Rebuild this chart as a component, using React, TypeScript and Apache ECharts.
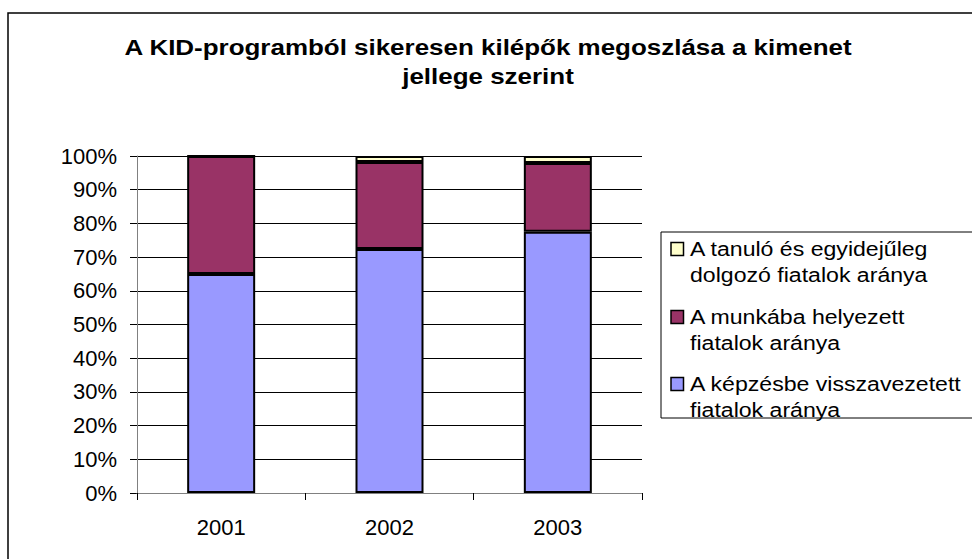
import React, { useEffect, useRef } from "react";
import * as echarts from "echarts";

const categories = ["2001", "2002", "2003"];
const kepzesbe = [65.0, 72.4, 77.5];
const munkaba = [35.0, 25.8, 20.4];
const tanulo = [0, 1.8, 2.1];
const yTicks = ["0%", "10%", "20%", "30%", "40%", "50%", "60%", "70%", "80%", "90%", "100%"];
const titleLines = ["A KID-programból sikeresen kilépők megoszlása a kimenet", "jellege szerint"];

const legendItems = [
  { lines: ["A tanuló és egyidejűleg", "dolgozó fiatalok aránya"], color: "#FFFFCC" },
  { lines: ["A munkába helyezett", "fiatalok aránya"], color: "#993366" },
  { lines: ["A képzésbe visszavezetett", "fiatalok aránya"], color: "#9999FF" },
];

const FONT = "'Liberation Sans', Arial, sans-serif";

export default function App() {
  const ref = useRef<HTMLDivElement>(null);
  useEffect(() => {
    document.body.style.margin = "0";
    const chart = echarts.init(ref.current!, null, { renderer: "svg" });
    const graphics: any[] = [
      {
        type: "rect",
        shape: { x: 8, y: 13, width: 1100, height: 700 },
        style: { fill: "none", stroke: "#000", lineWidth: 1.5 },
        silent: true,
      },
      {
        type: "rect",
        shape: { x: 661, y: 232, width: 400, height: 186 },
        style: { fill: "#fff", stroke: "#000", lineWidth: 1 },
      },
    ];
    titleLines.forEach((ln, i) => {
      graphics.push({
        type: "text",
        x: 488,
        y: 47 + i * 29,
        scaleX: 1.18,
        style: {
          text: ln,
          font: `bold 22px ${FONT}`,
          fill: "#000",
          align: "center",
          verticalAlign: "middle",
        },
      });
    });
    const centers = [249, 317, 384];
    legendItems.forEach((it, i) => {
      const cy = centers[i];
      graphics.push({
        type: "rect",
        shape: { x: 671, y: cy - 6.5, width: 12.5, height: 13 },
        style: { fill: it.color, stroke: "#000", lineWidth: 1.5 },
      });
      it.lines.forEach((ln, j) => {
        graphics.push({
          type: "text",
          x: 690,
          y: cy + j * 26,
          scaleX: 1.1,
          style: {
            text: ln,
            font: `21px ${FONT}`,
            fill: "#000",
            align: "left",
            verticalAlign: "middle",
          },
        });
      });
    });

    const series = [
      { name: "A képzésbe visszavezetett fiatalok aránya", data: kepzesbe, color: "#9999FF" },
      { name: "A munkába helyezett fiatalok aránya", data: munkaba, color: "#993366" },
      { name: "A tanuló és egyidejűleg dolgozó fiatalok aránya", data: tanulo, color: "#FFFFCC" },
    ].map((s) => ({
      type: "bar",
      name: s.name,
      stack: "total",
      data: s.data,
      barWidth: 68,
      itemStyle: { color: s.color, borderColor: "#000", borderWidth: 2 },
    }));

    chart.setOption({
      animation: false,
      backgroundColor: "#fff",
      grid: { left: 137, top: 156, width: 505, height: 337, containLabel: false },
      xAxis: {
        type: "category",
        data: categories,
        boundaryGap: true,
        axisLine: { lineStyle: { color: "#808080", width: 1 } },
        axisTick: { show: true, length: 7, lineStyle: { color: "#000" }, interval: 0 },
        axisLabel: { fontFamily: FONT, fontSize: 22, color: "#000", margin: 23 },
        z: 10,
      },
      yAxis: {
        type: "value",
        min: 0,
        max: 100,
        interval: 10,
        axisLine: { show: true, lineStyle: { color: "#808080", width: 1 } },
        axisTick: { show: true, length: 7, lineStyle: { color: "#000" } },
        splitLine: { show: true, lineStyle: { color: "#000", width: 1 } },
        axisLabel: {
          fontFamily: FONT,
          fontSize: 22,
          color: "#000",
          margin: 20,
          formatter: (v: number) => yTicks[Math.round(v / 10)],
        },
      },
      series,
      graphic: graphics,
    });
    return () => chart.dispose();
  }, []);
  return <div ref={ref} style={{ width: 972, height: 559 }} />;
}
